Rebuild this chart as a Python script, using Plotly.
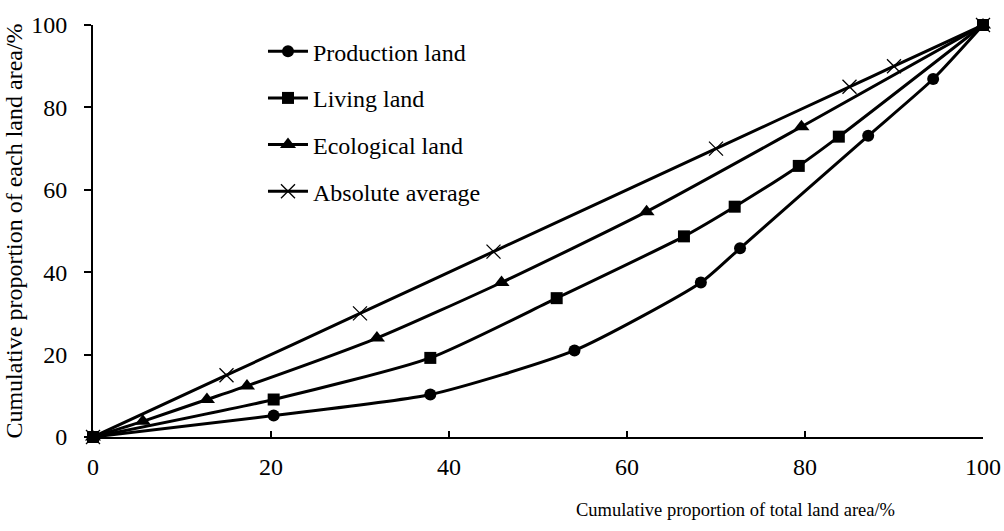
import plotly.graph_objects as go

# Data
prod_x = [0, 20.3, 37.9, 54.1, 68.3, 72.7, 87.1, 94.4, 100]
prod_y = [0, 5.2, 10.3, 21.0, 37.5, 45.8, 73.1, 86.9, 100]

living_x = [0, 20.3, 37.9, 52.1, 66.4, 72.1, 79.3, 83.8, 100]
living_y = [0, 9.1, 19.2, 33.7, 48.7, 55.9, 65.8, 72.9, 100]

eco_x = [0, 5.6, 12.8, 17.3, 31.9, 45.9, 62.2, 79.6, 100]
eco_y = [0, 3.8, 9.1, 12.4, 24.0, 37.5, 54.7, 75.3, 100]

avg_x = [0, 15, 30, 45, 70, 85, 90, 100]
avg_y = [0, 15, 30, 45, 70, 85, 90, 100]

series = [
    ("Production land", prod_x, prod_y, "circle", 12),
    ("Living land", living_x, living_y, "square", 12),
    ("Ecological land", eco_x, eco_y, "triangle-up", 14),
    ("Absolute average", avg_x, avg_y, "x-thin", 14),
]

FONT = "Liberation Serif, Times New Roman, serif"

fig = go.Figure()
for i, (name, xs, ys, sym, sz) in enumerate(series):
    marker = dict(symbol=sym, size=sz, color="black")
    if sym == "x-thin":
        marker = dict(symbol=sym, size=sz, color="black", line=dict(color="black", width=1.3))
    fig.add_trace(go.Scatter(
        x=xs, y=ys, name=name, mode="lines+markers",
        line=dict(color="black", width=3, shape="spline", smoothing=0.6),
        marker=marker, legendgroup=f"g{i}", cliponaxis=False,
    ))

fig.update_layout(
    width=1004, height=531,
    margin=dict(l=93, r=21, t=25, b=94, autoexpand=False),
    paper_bgcolor="white", plot_bgcolor="white",
    font=dict(family=FONT, color="black", size=20),
    showlegend=True,
    legend=dict(
        x=0.191, y=0.99, xanchor="left", yanchor="top",
        font=dict(family=FONT, size=24, color="black"),
        bgcolor="rgba(0,0,0,0)", tracegroupgap=12.5,
        traceorder="grouped", itemwidth=40,
    ),
    xaxis=dict(
        range=[0, 100], tickvals=[0, 20, 40, 60, 80, 100],
        showgrid=False, zeroline=False, automargin=False,
        showline=True, linecolor="black", linewidth=2,
        ticks="inside", ticklen=6, tickwidth=1.5, tickcolor="black",
        tickfont=dict(family=FONT, size=24, color="black"),
        ticklabelstandoff=7,
    ),
    yaxis=dict(
        range=[0, 100], tickvals=[0, 20, 40, 60, 80, 100],
        showgrid=False, zeroline=False, automargin=False,
        showline=True, linecolor="black", linewidth=2,
        ticks="outside", ticklen=7, tickwidth=1.5, tickcolor="black",
        tickfont=dict(family=FONT, size=24, color="black"),
        ticklabelstandoff=12,
        title=dict(text="Cumulative proportion of each land area/%",
                   font=dict(family=FONT, size=24, color="black"), standoff=2),
    ),
    annotations=[dict(
        text="Cumulative proportion of total land area/%",
        xref="paper", yref="paper", x=(735 - 93.3) / 889.4, y=-0.177,
        xanchor="center", yanchor="middle", showarrow=False,
        font=dict(family=FONT, size=18.5, color="black"),
    )],
)

fig.write_html("out.html", config={"displayModeBar": False},
               post_script="document.body.style.margin='0';")
